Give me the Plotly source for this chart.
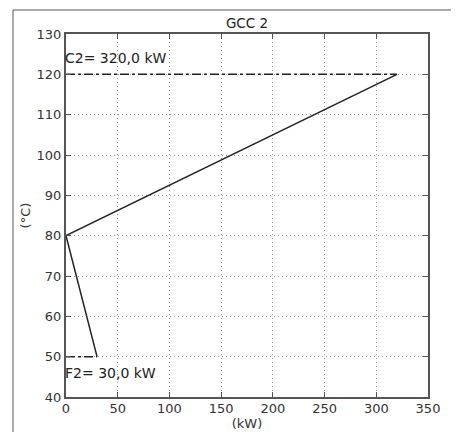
import plotly.graph_objects as go

# Data
gcc_q = [320.0, 0.0, 30.0]      # kW
gcc_t = [120.0, 80.0, 50.0]     # °C
hot_util_q = [0.0, 320.0]
hot_util_t = [120.0, 120.0]
cold_util_q = [0.0, 30.0]
cold_util_t = [50.0, 50.0]
labels = ["C2= 320,0 kW", "F2= 30,0 kW"]
label_t = [124.0, 46.0]

# page geometry (browser body has an 8px default margin)
OFF = 8
W, H = 459, 432
L, R, T, B = 66, 31, 34, 35          # page-pixel positions of plot area
pw, ph = W - L - R, H - T - B

fig = go.Figure()
fig.add_trace(go.Scatter(x=hot_util_q, y=hot_util_t, mode="lines",
                         line=dict(color="#222222", width=1.5, dash="dashdot"),
                         showlegend=False, hoverinfo="skip"))
fig.add_trace(go.Scatter(x=cold_util_q, y=cold_util_t, mode="lines",
                         line=dict(color="#222222", width=1.5, dash="dashdot"),
                         showlegend=False, hoverinfo="skip"))
fig.add_trace(go.Scatter(x=gcc_q, y=gcc_t, mode="lines",
                         line=dict(color="#222222", width=1.5),
                         showlegend=False))

for txt, yv in zip(labels, label_t):
    fig.add_annotation(x=0, y=yv, xref="x", yref="y", text=txt, showarrow=False,
                       xanchor="left", yanchor="middle", xshift=-3,
                       font=dict(family="DejaVu Sans", size=14, color="#222222"))

# outer figure border (partial, as in reference)
x_left = (13 - L) / pw
y_top = (H - B - 10) / ph
fig.add_shape(type="line", xref="paper", yref="paper", x0=x_left, x1=x_left,
              y0=-0.2, y1=y_top, line=dict(color="#555555", width=1))
fig.add_shape(type="line", xref="paper", yref="paper", x0=x_left, x1=1.2,
              y0=y_top, y1=y_top, line=dict(color="#555555", width=1))

axis_common = dict(showline=True, linecolor="#555555", linewidth=2, mirror="ticks",
                   ticks="inside", ticklen=5, tickcolor="#555555", tickwidth=1,
                   showgrid=True, gridcolor="#999999", griddash="1px,3px", gridwidth=1,
                   zeroline=False, automargin=False,
                   tickfont=dict(family="DejaVu Sans", size=13, color="#333333"))

fig.update_xaxes(range=[0, 350], dtick=50, tick0=0, ticklabelstandoff=-2,
                 title=dict(text="(kW)", standoff=0,
                            font=dict(family="DejaVu Sans", size=13, color="#333333")),
                 **axis_common)
fig.update_yaxes(range=[40, 130], dtick=10, tick0=40,
                 title=dict(text="(°C)", standoff=3,
                            font=dict(family="DejaVu Sans", size=13, color="#333333")),
                 **axis_common)

fw, fh = W - OFF, H - OFF
fig.update_layout(template="none", width=fw, height=fh,
                  margin=dict(l=L - OFF, r=R, t=T - OFF, b=B, autoexpand=False),
                  paper_bgcolor="white", plot_bgcolor="white",
                  title=dict(text="GCC 2", x=(L - OFF + pw / 2) / fw, xanchor="center",
                             y=1 - (23 - OFF) / fh, yanchor="middle",
                             font=dict(family="DejaVu Sans", size=13.5, color="#222222")))

fig.write_html("out.html")
